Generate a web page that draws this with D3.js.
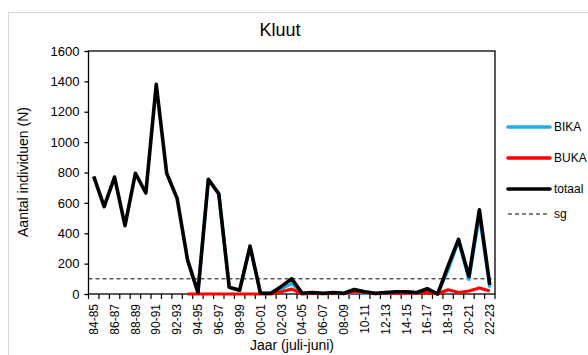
<!DOCTYPE html>
<html><head><meta charset="utf-8">
<script src="https://cdn.jsdelivr.net/npm/d3@7/dist/d3.min.js"></script>
<style>
body{margin:0;background:#fff;}
text{font-family:"Liberation Sans",Arial,sans-serif;fill:#000;}
</style></head><body>
<svg id="c" width="588" height="355"></svg>
<script>
const years = ["84-85","85-86","86-87","87-88","88-89","89-90","90-91","91-92","92-93","93-94","94-95","95-96","96-97","97-98","98-99","99-00","00-01","01-02","02-03","03-04","04-05","05-06","06-07","07-08","08-09","09-10","10-11","11-12","12-13","13-14","14-15","15-16","16-17","17-18","18-19","19-20","20-21","21-22","22-23"];
const totaal = [775,575,770,450,795,665,1380,795,630,225,10,755,660,45,25,315,5,5,50,100,5,10,5,10,5,30,15,5,10,15,15,10,35,0,185,360,115,555,60];
const buka = [null,null,null,null,null,null,null,null,null,0,0,0,0,0,0,0,0,0,15,32,0,5,3,5,3,15,10,3,5,5,8,5,10,0,28,10,20,40,20];
const bika = [null,null,null,null,null,null,null,null,null,225,10,755,660,45,25,315,5,5,35,68,5,5,2,5,2,10,5,2,5,10,7,5,25,0,157,350,95,515,42];
const sgValue = 100;
const yTicks = [0,200,400,600,800,1000,1200,1400,1600];

const svg = d3.select("#c");
const L = 88.5, R = 495, T = 51, B = 294;

// outer border
svg.append("rect").attr("x",8.5).attr("y",12.5).attr("width",600).attr("height",400)
  .attr("fill","none").attr("stroke","#d9d9d9").attr("stroke-width",1);

const x = d3.scaleBand().domain(years).range([L,R]).padding(0);
const y = d3.scaleLinear().domain([0,1600]).range([B,T]);
const cx = d => x(d) + x.bandwidth()/2;

// plot box
svg.append("rect").attr("x",L).attr("y",T).attr("width",R-L).attr("height",B-T)
  .attr("fill","none").attr("stroke","#000").attr("stroke-width",1.3);

// y axis
const ya = svg.append("g").attr("transform",`translate(${L},0)`)
  .call(d3.axisLeft(y).tickValues(yTicks).tickFormat(d3.format("d")).tickSize(4).tickPadding(5));
ya.select(".domain").remove();
ya.selectAll("line").attr("stroke","#000").attr("stroke-width",1.3);
ya.selectAll("text").style("font-size","13px").attr("fill","#000");

// x axis labels
const xa = svg.append("g").attr("transform",`translate(0,${B})`)
  .call(d3.axisBottom(x).tickValues(years.filter((d,i)=>i%2===0)).tickSize(0).tickPadding(0));
xa.select(".domain").remove();
xa.selectAll(".tick text").style("font-size","12px").attr("fill","#000")
  .attr("text-anchor","end").attr("transform","rotate(-90)")
  .attr("x",-10).attr("y",0).attr("dy","0.35em");
// x tick marks at band boundaries
const bounds = years.map(d=>x(d)).concat([R]);
svg.append("g").selectAll("line").data(bounds).join("line")
  .attr("x1",d=>d).attr("x2",d=>d).attr("y1",B).attr("y2",B+5)
  .attr("stroke","#000").attr("stroke-width",1.2);

// sg line
svg.append("line").attr("x1",L).attr("x2",R).attr("y1",y(sgValue)).attr("y2",y(sgValue))
  .attr("stroke","#000").attr("stroke-width",1).attr("stroke-dasharray","4,3");

const line = d3.line().defined(d=>d.v!=null).x(d=>cx(d.k)).y(d=>y(d.v));
const mk = arr => years.map((k,i)=>({k, v:arr[i]}));
svg.append("path").attr("d",line(mk(bika))).attr("fill","none").attr("stroke","#1cb0ec").attr("stroke-width",3.2).attr("stroke-linejoin","round");
svg.append("path").attr("d",line(mk(buka))).attr("fill","none").attr("stroke","#ff0000").attr("stroke-width",3.2).attr("stroke-linejoin","round");
svg.append("path").attr("d",line(mk(totaal))).attr("fill","none").attr("stroke","#000").attr("stroke-width",3.6).attr("stroke-linejoin","round");

// title
svg.append("text").attr("x",280).attr("y",36).attr("text-anchor","middle").style("font-size","18px").text("Kluut");
// axis titles
svg.append("text").attr("transform","translate(28,172) rotate(-90)").attr("text-anchor","middle").style("font-size","14px").text("Aantal individuen (N)");
svg.append("text").attr("x",292).attr("y",350).attr("text-anchor","middle").style("font-size","14px").text("Jaar (juli-juni)");

// legend
const leg = [
  {n:"BIKA", c:"#1cb0ec", w:3.6, dash:null, y:127},
  {n:"BUKA", c:"#ff0000", w:3.6, dash:null, y:158},
  {n:"totaal", c:"#000", w:3.6, dash:null, y:189},
  {n:"sg", c:"#000", w:1, dash:"4,3", y:214}
];
const lg = svg.append("g");
leg.forEach(d=>{
  lg.append("line").attr("x1",508).attr("x2",550).attr("y1",d.y).attr("y2",d.y)
    .attr("stroke",d.c).attr("stroke-width",d.w).attr("stroke-dasharray",d.dash).attr("stroke-linecap", d.dash?"butt":"round");
  lg.append("text").attr("x",554).attr("y",d.y).attr("dy","0.35em").style("font-size","12px").text(d.n);
});
</script></body></html>
